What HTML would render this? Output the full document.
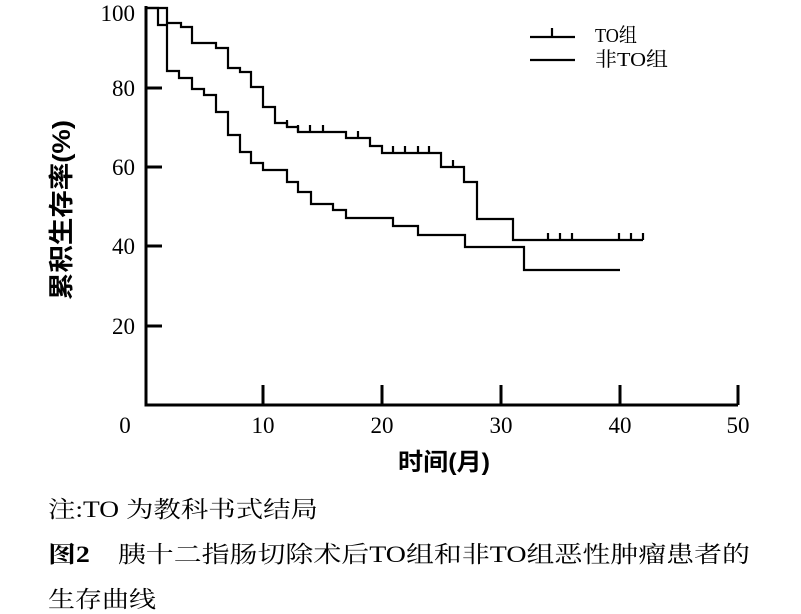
<!DOCTYPE html><html><head><meta charset="utf-8"><style>
body{margin:0;background:#fff;width:801px;height:614px;overflow:hidden}
svg{position:absolute;left:0;top:0}
.s{font-family:"Liberation Serif","Noto Serif CJK SC",serif}
.b{font-family:"Liberation Sans","Noto Sans CJK SC",sans-serif;font-weight:bold}
</style></head><body>
<svg width="801" height="614" viewBox="0 0 801 614">
<g stroke="#000" stroke-width="3" fill="none">
<path d="M146,6V405H738"/>
<path d="M146,88h16M146,167h16M146,246h16M146,326h16"/>
<path d="M263,405v-20M382,405v-20M501,405v-20M620,405v-20M738,405v-20"/>
</g>
<g stroke="#000" stroke-width="2.2" fill="none">
<path d="M146,8H167V23H181V27H192V43H216V48H228V68H240V72H251V87H263V107H275V123H287V127H298V132H346V138H370V146H382V153H441V167H464V182H477V219H513V240H643"/>
<path d="M146,8H158V25H167V71H179V78H192V89H204V95H216V112H228V135H240V152H251V163H263V170H287V182H298V192H311V204H333V210H346V218H393V226H418V235H465V247H524V270H620"/>
<path d="M287,127v-7M298,132v-7M310,132v-7M323,132v-7M358,138v-7M393,153v-7M405,153v-7M418,153v-7M429,153v-7M453,167v-7M548,240v-7M560,240v-7M572,240v-7M619,240v-7M631,240v-7M643,240v-7"/>
<path d="M530,37H575M552,37v-9M530,60H575"/>
</g>
<g class="s" font-size="23" text-anchor="end">
<text x="135" y="21">100</text><text x="135" y="96">80</text><text x="135" y="175">60</text><text x="135" y="254">40</text><text x="135" y="334">20</text>
</g>
<g class="s" font-size="23" text-anchor="middle">
<text x="125" y="433">0</text><text x="263" y="433">10</text><text x="382" y="433">20</text><text x="501" y="433">30</text><text x="620" y="433">40</text><text x="738" y="433">50</text>
</g>
<text class="s" font-size="20" x="595" y="42" textLength="42" lengthAdjust="spacingAndGlyphs">TO组</text>
<text class="s" font-size="20" x="595" y="66" textLength="73" lengthAdjust="spacingAndGlyphs">非TO组</text>
<text class="b" font-size="24" x="398" y="470" textLength="92" lengthAdjust="spacingAndGlyphs">时间(月)</text>
<text class="b" font-size="25" transform="translate(70,300) rotate(-90)" textLength="180" lengthAdjust="spacingAndGlyphs">累积生存率(%)</text>
<text class="s" font-size="23" x="48" y="517" textLength="270" lengthAdjust="spacingAndGlyphs">注:TO 为教科书式结局</text>
<text class="s" font-size="23" x="48" y="562" textLength="702" lengthAdjust="spacingAndGlyphs"><tspan font-weight="bold">图2</tspan>　胰十二指肠切除术后TO组和非TO组恶性肿瘤患者的</text>
<text class="s" font-size="23" x="48" y="607" textLength="108" lengthAdjust="spacingAndGlyphs">生存曲线</text>
</svg>
</body></html>
